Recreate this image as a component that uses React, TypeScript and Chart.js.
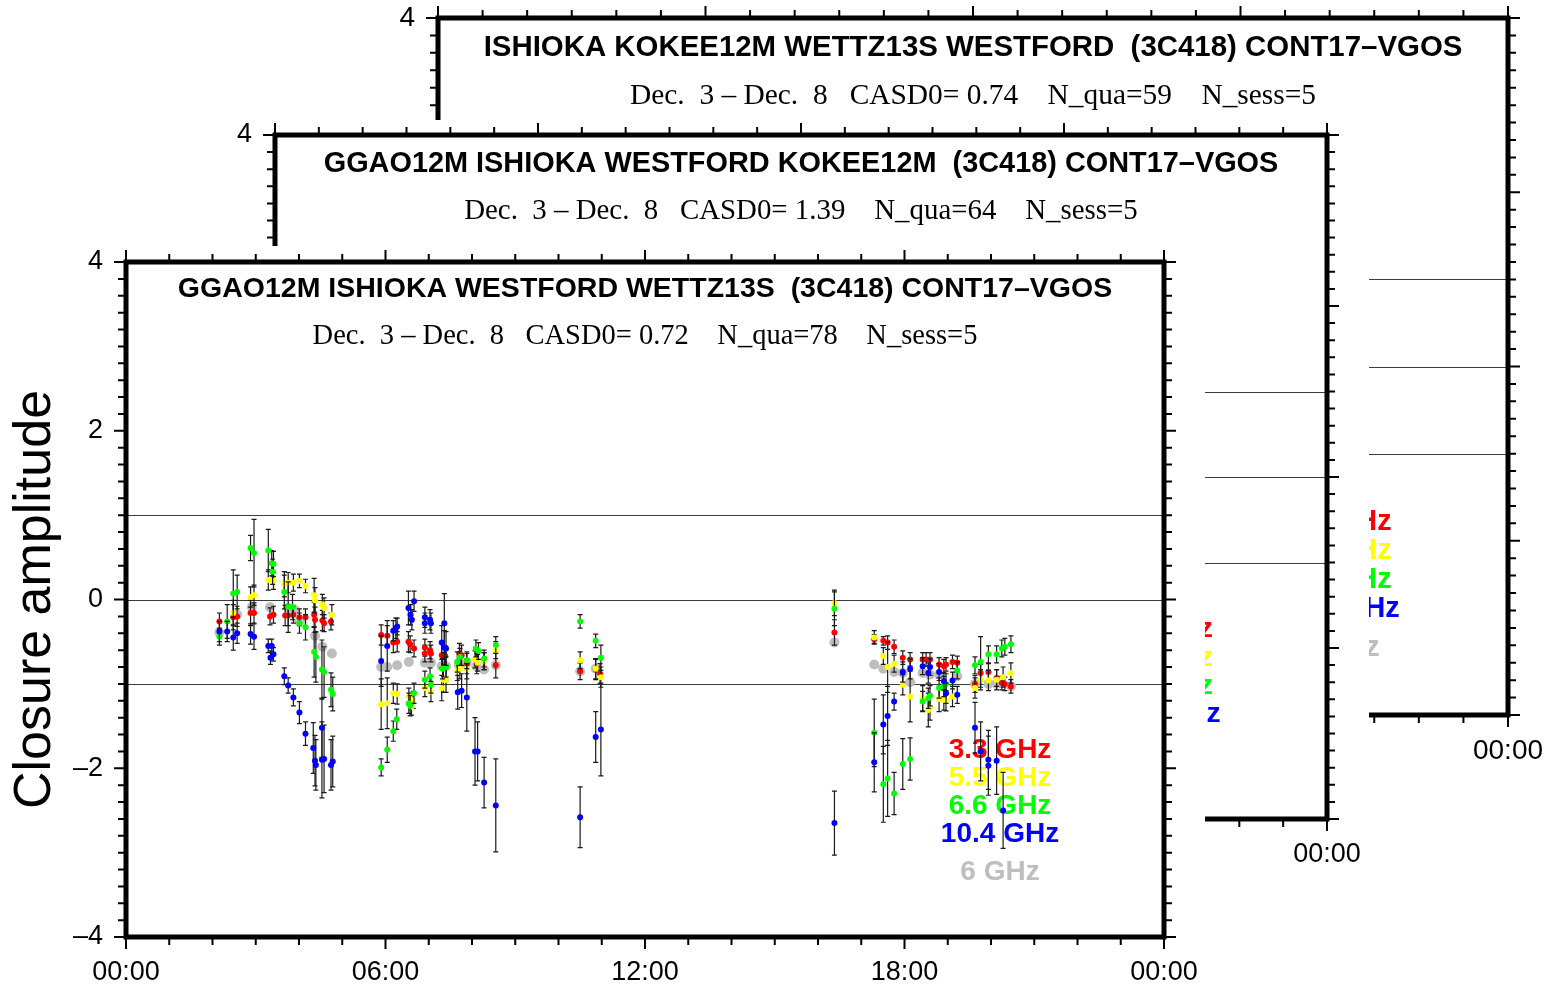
import React, { useEffect, useRef } from "react";
import { Chart, registerables } from "chart.js";

Chart.register(...registerables);

const PAGE_W = 1549;
const PAGE_H = 987;
const SANS = '"Liberation Sans", Arial, Helvetica, sans-serif';
const SERIF = '"Liberation Serif", "Times New Roman", serif';

// ---------- axes ----------
const X_MIN = 0;
const X_MAX = 24;
const X_STEP = 6;
const X_TICK_LABELS = ["00:00", "06:00", "12:00", "18:00", "00:00"];
const Y_MIN = -4;
const Y_MAX = 4;
const Y_STEP = 2;
const Y_AXIS_TITLE = "Closure amplitude";
const REF_LINE_VALUES = [1, 0, -1];

// ---------- legend ----------
const LEGEND_LABELS = ["3.3 GHz", "5.5 GHz", "6.6 GHz", "10.4 GHz", "6 GHz"];
const SERIES_COLORS = ["#ff0000", "#ffff00", "#00ff00", "#0000ff", "#bebebe"];

// ---------- panel texts (back to front) ----------
const PANEL_TITLES = [
  "ISHIOKA KOKEE12M WETTZ13S WESTFORD  (3C418) CONT17\u2013VGOS",
  "GGAO12M ISHIOKA WESTFORD KOKEE12M  (3C418) CONT17\u2013VGOS",
  "GGAO12M ISHIOKA WESTFORD WETTZ13S  (3C418) CONT17\u2013VGOS",
];
const PANEL_CASD0 = ["0.74", "1.39", "0.72"];
const PANEL_N_QUA = [59, 64, 78];
const PANEL_N_SESS = [5, 5, 5];

// ---------- front panel data: [hour, closure amplitude, error] ----------
const RED_33: number[][] = [
  [2.16, -0.26, 0.10], [2.48, -0.21, 0.15], [2.57, -0.20, 0.12], [2.88, -0.16, 0.15],
  [2.96, -0.16, 0.12], [3.33, -0.20, 0.10], [3.41, -0.18, 0.10], [3.68, -0.19, 0.12],
  [3.75, -0.19, 0.12], [3.87, -0.18, 0.10], [4.01, -0.21, 0.10], [4.15, -0.21, 0.10],
  [4.35, -0.18, 0.15], [4.37, -0.24, 0.15], [4.54, -0.25, 0.12], [4.58, -0.28, 0.10],
  [4.74, -0.26, 0.10],
  [5.90, -0.42, 0.12], [6.04, -0.43, 0.12], [6.18, -0.51, 0.12], [6.27, -0.50, 0.12],
  [6.53, -0.50, 0.12], [6.57, -0.53, 0.10], [6.66, -0.58, 0.10], [6.91, -0.57, 0.10],
  [6.91, -0.64, 0.10], [7.03, -0.60, 0.10], [7.05, -0.64, 0.10], [7.30, -0.66, 0.15],
  [7.38, -0.67, 0.12], [7.71, -0.64, 0.12], [7.76, -0.66, 0.12], [7.88, -0.76, 0.12],
  [8.11, -0.76, 0.12], [8.28, -0.73, 0.10], [8.55, -0.78, 0.15],
  [10.50, -0.85, 0.10], [10.86, -0.83, 0.12], [10.96, -0.88, 0.12],
  [16.38, -0.39, 0.15],
  [17.30, -0.47, 0.05], [17.51, -0.49, 0.05], [17.61, -0.51, 0.08], [17.76, -0.56, 0.08],
  [17.96, -0.69, 0.08], [18.13, -0.71, 0.08], [18.42, -0.71, 0.08], [18.50, -0.71, 0.08],
  [18.59, -0.71, 0.08], [18.80, -0.77, 0.08], [18.91, -0.79, 0.08], [18.96, -0.77, 0.08],
  [19.11, -0.74, 0.08], [19.22, -0.75, 0.08], [19.63, -1.00, 0.10], [19.76, -0.87, 0.10],
  [19.94, -0.86, 0.10], [20.13, -0.93, 0.10], [20.25, -0.99, 0.08], [20.32, -1.00, 0.08],
  [20.46, -1.03, 0.08],
];

const YELLOW_55: number[][] = [
  [2.48, -0.16, 0.15], [2.88, 0.03, 0.12], [2.96, 0.05, 0.12], [3.29, 0.23, 0.12],
  [3.41, 0.22, 0.10], [3.66, 0.18, 0.15], [3.75, 0.20, 0.12], [3.87, 0.20, 0.10],
  [4.01, 0.22, 0.08], [4.15, 0.16, 0.08], [4.35, 0.05, 0.20], [4.37, -0.01, 0.15],
  [4.54, -0.06, 0.12], [4.58, -0.10, 0.12], [4.76, -0.18, 0.12],
  [5.90, -1.24, 0.30], [6.04, -1.23, 0.30], [6.18, -1.11, 0.12], [6.27, -1.12, 0.12],
  [6.54, -1.15, 0.10], [6.64, -1.19, 0.10], [6.60, -1.27, 0.10], [6.91, -1.05, 0.10],
  [7.05, -1.09, 0.12], [7.30, -1.05, 0.15], [7.34, -0.95, 0.15], [7.40, -0.95, 0.15],
  [7.66, -0.84, 0.12], [7.72, -0.82, 0.12], [7.88, -0.82, 0.12], [8.07, -0.71, 0.10],
  [8.13, -0.75, 0.10], [8.28, -0.73, 0.10], [8.55, -0.60, 0.10],
  [10.50, -0.72, 0.10], [10.86, -0.82, 0.12], [10.98, -0.92, 0.12],
  [16.38, -0.04, 0.15],
  [17.30, -0.45, 0.08], [17.51, -0.67, 0.10], [17.61, -0.80, 0.30], [17.76, -0.76, 0.10],
  [17.96, -1.01, 0.12], [18.13, -1.15, 0.30], [18.42, -1.17, 0.15], [18.55, -1.31, 0.20],
  [18.59, -1.28, 0.15], [18.80, -1.18, 0.15], [18.91, -1.19, 0.12], [18.96, -1.20, 0.12],
  [19.11, -1.15, 0.12], [19.63, -1.05, 0.12], [19.76, -0.95, 0.12], [19.94, -0.96, 0.12],
  [20.13, -0.95, 0.12], [20.28, -0.92, 0.12], [20.46, -0.87, 0.12],
];

const GREEN_66: number[][] = [
  [2.16, -0.44, 0.10], [2.34, -0.26, 0.20], [2.48, 0.07, 0.28], [2.57, 0.09, 0.20],
  [2.88, 0.61, 0.15], [2.96, 0.55, 0.40], [3.29, 0.58, 0.25], [3.37, 0.43, 0.15],
  [3.41, 0.42, 0.15], [3.39, 0.33, 0.15], [3.66, 0.09, 0.20], [3.75, -0.09, 0.30],
  [3.85, -0.09, 0.15], [4.01, -0.28, 0.12], [4.15, -0.33, 0.15], [4.35, -0.62, 0.30],
  [4.39, -0.68, 0.30], [4.53, -0.83, 0.35], [4.58, -0.86, 0.30], [4.74, -1.07, 0.20],
  [4.78, -1.12, 0.20],
  [5.90, -1.99, 0.10], [6.04, -1.78, 0.15], [6.18, -1.56, 0.12], [6.26, -1.42, 0.12],
  [6.54, -1.23, 0.12], [6.57, -1.26, 0.12], [6.66, -1.11, 0.12], [6.91, -0.95, 0.10],
  [7.03, -0.91, 0.10], [7.05, -1.01, 0.10], [7.32, -0.82, 0.12], [7.40, -0.80, 0.12],
  [7.66, -0.74, 0.12], [7.72, -0.68, 0.10], [7.88, -0.72, 0.10], [8.09, -0.58, 0.10],
  [8.15, -0.61, 0.10], [8.28, -0.70, 0.10], [8.55, -0.54, 0.10],
  [10.50, -0.26, 0.08], [10.86, -0.49, 0.08], [10.98, -0.69, 0.15],
  [16.38, -0.11, 0.20],
  [17.30, -1.58, 0.40], [17.51, -2.19, 0.45], [17.61, -2.12, 0.45], [17.76, -2.30, 0.25],
  [17.96, -1.95, 0.30], [18.13, -1.89, 0.25], [18.42, -1.21, 0.12], [18.55, -1.17, 0.12],
  [18.59, -1.14, 0.12], [18.80, -1.05, 0.12], [18.91, -1.03, 0.12], [18.96, -1.00, 0.12],
  [19.22, -0.84, 0.10], [19.63, -0.78, 0.10], [19.76, -0.74, 0.30], [19.94, -0.65, 0.10],
  [20.13, -0.65, 0.10], [20.25, -0.58, 0.10], [20.32, -0.56, 0.10], [20.46, -0.53, 0.10],
];

const BLUE_104: number[][] = [
  [2.16, -0.38, 0.12], [2.34, -0.38, 0.12], [2.48, -0.45, 0.15], [2.57, -0.40, 0.12],
  [2.88, -0.41, 0.12], [2.96, -0.44, 0.15], [3.29, -0.55, 0.08], [3.37, -0.55, 0.08],
  [3.41, -0.65, 0.08], [3.34, -0.69, 0.08], [3.66, -0.91, 0.10], [3.75, -1.02, 0.09],
  [3.87, -1.16, 0.10], [4.01, -1.34, 0.13], [4.15, -1.59, 0.14], [4.33, -1.76, 0.30],
  [4.37, -1.91, 0.30], [4.39, -1.96, 0.30], [4.53, -1.52, 0.35], [4.53, -1.90, 0.45],
  [4.58, -1.89, 0.40], [4.74, -1.96, 0.30], [4.78, -1.92, 0.30],
  [5.90, -0.73, 0.30], [6.04, -0.55, 0.30], [6.18, -0.37, 0.12], [6.24, -0.34, 0.12],
  [6.27, -0.32, 0.10], [6.53, -0.10, 0.20], [6.58, -0.18, 0.12], [6.61, -0.24, 0.12],
  [6.66, -0.02, 0.12], [6.91, -0.21, 0.12], [6.91, -0.28, 0.12], [7.03, -0.24, 0.12],
  [7.05, -0.28, 0.12], [7.30, -0.51, 0.20], [7.36, -0.28, 0.35], [7.36, -0.57, 0.20],
  [7.40, -0.58, 0.20], [7.67, -1.10, 0.20], [7.76, -1.08, 0.20], [7.88, -1.16, 0.40],
  [8.07, -1.80, 0.40], [8.13, -1.80, 0.35], [8.28, -2.17, 0.30], [8.55, -2.44, 0.55],
  [10.50, -2.58, 0.36], [10.86, -1.63, 0.30], [10.98, -1.54, 0.55],
  [16.38, -2.65, 0.38],
  [17.30, -1.93, 0.35], [17.51, -1.48, 0.35], [17.61, -1.38, 0.35], [17.76, -1.21, 0.10],
  [17.96, -0.86, 0.12], [18.13, -0.82, 0.12], [18.42, -0.79, 0.10], [18.55, -0.87, 0.12],
  [18.59, -0.80, 0.10], [18.80, -0.86, 0.10], [18.91, -0.97, 0.10], [18.96, -1.11, 0.12],
  [19.11, -0.96, 0.10], [19.22, -1.13, 0.10], [19.63, -1.52, 0.30], [19.76, -1.80, 0.35],
  [19.94, -1.90, 0.35], [19.94, -1.97, 0.35], [20.13, -1.91, 0.40], [20.28, -2.50, 0.45],
];

const GRAY_6: number[][] = [
  [2.16, -0.39], [2.57, -0.18], [2.91, -0.09], [3.33, -0.09], [3.75, -0.10], [3.90, -0.12],
  [4.01, -0.26], [4.37, -0.43], [4.54, -0.56], [4.76, -0.64],
  [5.90, -0.80], [6.04, -0.80], [6.27, -0.78], [6.54, -0.74], [6.91, -0.75], [7.05, -0.75],
  [7.30, -0.79], [7.40, -0.79], [7.70, -0.78], [7.88, -0.75], [8.10, -0.79], [8.28, -0.83],
  [8.55, -0.78],
  [10.50, -0.85], [10.86, -0.82],
  [16.38, -0.51],
  [17.30, -0.77], [17.51, -0.82], [17.76, -0.86], [17.96, -0.87], [18.13, -0.98], [18.42, -0.87],
  [18.59, -0.89], [18.80, -0.89], [19.22, -0.91], [19.63, -1.00], [19.94, -1.00], [20.13, -1.00],
  [20.46, -1.03],
];

// ---------- layout of the three stacked panels (back to front) ----------
type Box = {
  L: number; T: number; R: number; B: number;
  cover: number[] | null; titleDy: number; subDy: number; hasData: boolean; yTitle: boolean;
};
const PANEL_BOXES: Box[] = [
  { L: 438, T: 18, R: 1508, B: 715, cover: null, titleDy: 30, subDy: 78, hasData: false, yTitle: false },
  { L: 275, T: 135, R: 1327, B: 819, cover: [0, 120, 1369, PAGE_H], titleDy: 29, subDy: 76, hasData: false, yTitle: false },
  { L: 126, T: 262, R: 1164, B: 937, cover: [0, 246, 1205, PAGE_H], titleDy: 27, subDy: 75, hasData: true, yTitle: true },
];
const LEGEND_DY = [488, 516, 544, 572, 610];
const LEGEND_DX = 164;
const BASE_H = 675;

function subtitle(i: number) {
  return `Dec.  3 \u2013 Dec.  8   CASD0= ${PANEL_CASD0[i]}    N_qua=${PANEL_N_QUA[i]}    N_sess=${PANEL_N_SESS[i]}`;
}

function makeDatasets(hasData: boolean) {
  if (!hasData) return [];
  const series = [RED_33, YELLOW_55, GREEN_66, BLUE_104];
  const ds: any[] = series.map((arr, k) => ({
    label: LEGEND_LABELS[k],
    data: arr.map((d) => ({ x: d[0], y: d[1] })),
    errs: arr.map((d) => d[2]),
    backgroundColor: SERIES_COLORS[k],
    pointBackgroundColor: SERIES_COLORS[k],
    pointBorderWidth: 0,
    pointRadius: 3,
    showLine: false,
    order: 4 - k,
  }));
  ds.push({
    label: LEGEND_LABELS[4],
    data: GRAY_6.map((d) => ({ x: d[0], y: d[1] })),
    backgroundColor: SERIES_COLORS[4],
    pointBackgroundColor: SERIES_COLORS[4],
    pointBorderWidth: 0,
    pointRadius: 5,
    showLine: false,
    order: 10,
  });
  return ds;
}

function panelPlugin(p: Box, idx: number) {
  const s = (p.B - p.T) / BASE_H;
  return {
    id: "panel" + idx,
    beforeDraw(chart: any) {
      if (!p.cover) return;
      const ctx = chart.ctx;
      ctx.save();
      ctx.fillStyle = "#ffffff";
      const [x0, y0, x1, y1] = p.cover;
      ctx.fillRect(x0, y0, x1 - x0, y1 - y0);
      ctx.restore();
    },
    beforeDatasetsDraw(chart: any) {
      const ctx = chart.ctx;
      const xs = chart.scales.x;
      const ys = chart.scales.y;
      ctx.save();
      // reference lines
      ctx.strokeStyle = "#3c3c3c";
      ctx.lineWidth = 1.1;
      REF_LINE_VALUES.forEach((v) => {
        const py = Math.round(ys.getPixelForValue(v)) + 0.5;
        ctx.beginPath();
        ctx.moveTo(xs.left, py);
        ctx.lineTo(xs.right, py);
        ctx.stroke();
      });
      const cx = (p.L + p.R) / 2;
      ctx.textAlign = "center";
      ctx.textBaseline = "middle";
      ctx.fillStyle = "#000";
      ctx.font = `bold ${28.5 * s}px ${SANS}`;
      ctx.fillText(PANEL_TITLES[idx], cx, p.T + p.titleDy);
      ctx.font = `${28.5 * s}px ${SERIF}`;
      ctx.fillText(subtitle(idx), cx, p.T + p.subDy);
      // legend
      ctx.font = `bold ${28 * s}px ${SANS}`;
      LEGEND_LABELS.forEach((lab, k) => {
        ctx.fillStyle = SERIES_COLORS[k];
        ctx.fillText(lab, p.R - LEGEND_DX * s, p.T + LEGEND_DY[k] * s);
      });
      ctx.restore();
    },
    beforeDatasetDraw(chart: any, args: any) {
      const ds = chart.data.datasets[args.index];
      if (!ds || !ds.errs) return;
      const ctx = chart.ctx;
      const xs = chart.scales.x;
      const ys = chart.scales.y;
      ctx.save();
      ctx.strokeStyle = "#1a1a1a";
      ctx.lineWidth = 1.2;
      ds.data.forEach((pt: any, k: number) => {
        const e = ds.errs[k];
        const px = xs.getPixelForValue(pt.x);
        const y1 = ys.getPixelForValue(pt.y + e);
        const y2 = ys.getPixelForValue(pt.y - e);
        ctx.beginPath();
        ctx.moveTo(px, y1);
        ctx.lineTo(px, y2);
        ctx.moveTo(px - 2.5, y1);
        ctx.lineTo(px + 2.5, y1);
        ctx.moveTo(px - 2.5, y2);
        ctx.lineTo(px + 2.5, y2);
        ctx.stroke();
      });
      ctx.restore();
    },
    afterDraw(chart: any) {
      const ctx = chart.ctx;
      const xs = chart.scales.x;
      const ys = chart.scales.y;
      const L = xs.left, R = xs.right, T = ys.top, B = ys.bottom;
      ctx.save();
      ctx.strokeStyle = "#000";
      ctx.lineCap = "butt";
      ctx.lineWidth = 2;
      for (let h = X_MIN; h <= X_MAX; h++) {
        const len = h % X_STEP === 0 ? 12 : 8;
        const px = xs.getPixelForValue(h);
        ctx.beginPath();
        ctx.moveTo(px, B);
        ctx.lineTo(px, B + len);
        ctx.moveTo(px, T);
        ctx.lineTo(px, T - len);
        ctx.stroke();
      }
      for (let i = Y_MIN * 5; i <= Y_MAX * 5; i++) {
        const len = i % (Y_STEP * 5) === 0 ? 12 : 8;
        const py = ys.getPixelForValue(i / 5);
        ctx.beginPath();
        ctx.moveTo(L, py);
        ctx.lineTo(L - len, py);
        ctx.moveTo(R, py);
        ctx.lineTo(R + len, py);
        ctx.stroke();
      }
      ctx.lineWidth = 5;
      ctx.lineJoin = "miter";
      ctx.strokeRect(L, T, R - L, B - T);
      ctx.restore();
    },
  };
}

function zeroPadding(sc: any) {
  sc.paddingTop = 0;
  sc.paddingBottom = 0;
  sc.paddingLeft = 0;
  sc.paddingRight = 0;
}

function buildConfig(p: Box, idx: number): any {
  const s = (p.B - p.T) / BASE_H;
  const tickFont = { family: SANS, size: Math.round(27 * s) };
  return {
    type: "scatter",
    data: { datasets: makeDatasets(p.hasData) },
    options: {
      responsive: false,
      animation: false,
      devicePixelRatio: 1,
      events: [],
      layout: { padding: { left: 0, top: p.T, right: PAGE_W - p.R, bottom: 0 } },
      plugins: { legend: { display: false }, tooltip: { enabled: false }, title: { display: false } },
      scales: {
        x: {
          type: "linear",
          position: "bottom",
          min: X_MIN,
          max: X_MAX,
          afterFit: (sc: any) => { sc.height = PAGE_H - p.B; zeroPadding(sc); },
          grid: { display: false, drawTicks: false },
          border: { display: false },
          ticks: {
            stepSize: X_STEP,
            autoSkip: false,
            maxRotation: 0,
            padding: 19,
            color: "#000",
            font: tickFont,
            callback: (v: number) => X_TICK_LABELS[Math.round(v / X_STEP)],
          },
        },
        y: {
          type: "linear",
          position: "left",
          min: Y_MIN,
          max: Y_MAX,
          afterFit: (sc: any) => { sc.width = p.L; zeroPadding(sc); },
          grid: { display: false, drawTicks: false },
          border: { display: false },
          title: {
            display: p.yTitle,
            text: Y_AXIS_TITLE,
            color: "#000",
            font: { family: SANS, size: 52 },
            padding: { top: 4, bottom: 0 },
          },
          ticks: {
            stepSize: Y_STEP,
            autoSkip: false,
            padding: 23,
            color: "#000",
            font: tickFont,
            callback: (v: number) => (v < 0 ? "\u2013" + Math.abs(v) : String(v)),
          },
        },
      },
    },
    plugins: [panelPlugin(p, idx)],
  };
}

export default function App() {
  const canvases = useRef<(HTMLCanvasElement | null)[]>([]);
  useEffect(() => {
    const charts = PANEL_BOXES.map((p, i) => new Chart(canvases.current[i] as HTMLCanvasElement, buildConfig(p, i)));
    return () => charts.forEach((c) => c.destroy());
  }, []);
  return (
    <div style={{ position: "absolute", left: 0, top: 0, width: PAGE_W, height: PAGE_H, background: "#fff" }}>
      {PANEL_BOXES.map((p, i) => (
        <canvas
          key={i}
          ref={(el) => { canvases.current[i] = el; }}
          width={PAGE_W}
          height={PAGE_H}
          style={{ position: "absolute", left: 0, top: 0, width: PAGE_W, height: PAGE_H }}
        />
      ))}
    </div>
  );
}
